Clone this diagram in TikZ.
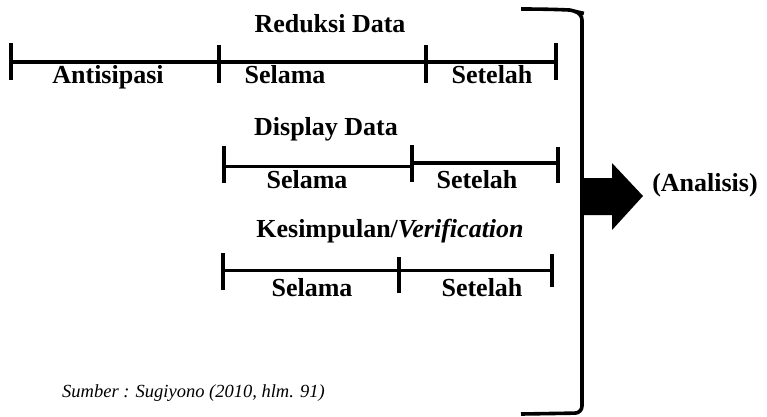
\documentclass[tikz,border=0pt]{standalone}
\usepackage{fontspec}
\setmainfont{Liberation Serif}
\begin{document}
\begin{tikzpicture}[x=1pt,y=-1pt,
  lbl/.style={font=\fontsize{26}{30}\selectfont\bfseries, anchor=base, inner sep=0pt},
  src/.style={font=\fontsize{18.5}{22}\selectfont\itshape, anchor=base west, inner sep=0pt},
  hline/.style={line width=3.6pt},
  tick/.style={line width=4pt},
  brk/.style={line width=3.6pt, rounded corners=7pt}]
\useasboundingbox (0,0) rectangle (767,416);
% Row 1: Reduksi Data
\node[lbl] (t1) at (330,32) {Reduksi Data};
\coordinate (a0) at (11,62); \coordinate (a1) at (219,62);
\coordinate (a2) at (426,62); \coordinate (a3) at (556,62);
\draw[hline] (a0) -- (a3);
\draw[tick] (11,43) -- (11,80);
\draw[tick] (219,45) -- (219,83);
\draw[tick] (426,45) -- (426,83);
\draw[tick] (556,43) -- (556,80);
\node[lbl] (r1a) at (108,83) {Antisipasi};
\node[lbl] (r1b) at (285,83) {Selama};
\node[lbl] (r1c) at (492,83) {Setelah};
% Row 2: Display Data
\node[lbl] (t2) at (326,135) {Display Data};
\coordinate (b0) at (224,166.5); \coordinate (b1) at (412,166.5);
\coordinate (b2) at (412,163); \coordinate (b3) at (558,163);
\draw[hline] (b0) -- (b1);
\draw[hline] (b2) -- (b3);
\draw[tick] (224,146) -- (224,183);
\draw[tick] (412,145) -- (412,182);
\draw[tick] (558,147) -- (558,183);
\node[lbl] (r2a) at (307,188) {Selama};
\node[lbl] (r2b) at (477,188) {Setelah};
% Row 3: Kesimpulan
\node[lbl] (t3) at (390,237) {Kesimpulan/\textit{Verification}};
\coordinate (c0) at (223,270.5); \coordinate (c1) at (552,270.5);
\draw[hline] (c0) -- (c1);
\draw[tick] (223,253) -- (223,290);
\draw[tick] (399,257) -- (399,293);
\draw[tick] (552,254) -- (552,287);
\node[lbl] (r3a) at (312,296) {Selama};
\node[lbl] (r3b) at (482,296) {Setelah};
% Bracket
\coordinate (k0) at (521,9); \coordinate (k1) at (582,13);
\coordinate (k2) at (582,413); \coordinate (k3) at (521,414);
\draw[brk] (k0) .. controls (550,9) and (570,10) .. (577,12) -- (k1) -- (k2) -- (k3);
% Block arrow
\fill (583,178) -- (612,178) -- (612,163) -- (643,196) -- (612,230) -- (612,215) -- (583,215) -- cycle;
\node[lbl] (an) at (705,191) {(Analisis)};
% Source
\node[src] (sb) at (62,397) {Sumber : Sugiyono (2010, hlm. 91)};
\end{tikzpicture}
\end{document}
